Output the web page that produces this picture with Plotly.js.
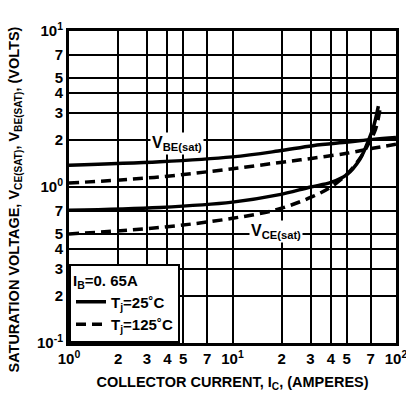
<!DOCTYPE html>
<html>
<head>
<meta charset="utf-8">
<script src="https://cdn.plot.ly/plotly-3.0.1.min.js"></script>
<style>html,body{margin:0;padding:0;background:#fff;}#chart{width:406px;height:400px;}</style>
</head>
<body>
<div id="chart"></div>
<script>
// Collector current (A) and saturation voltages (V)
const vbe25_x = [1, 3.6, 10, 19, 31, 51, 72, 100];
const vbe25_y = [1.38, 1.45, 1.56, 1.70, 1.84, 1.94, 2.02, 2.08];
const vbe125_x = [1, 3.6, 10, 19, 31, 51, 72, 100];
const vbe125_y = [1.06, 1.16, 1.31, 1.43, 1.53, 1.65, 1.77, 1.88];
const vce25_x = [1, 3.6, 10, 19, 30, 40, 50, 60, 68, 73, 78];
const vce25_y = [0.71, 0.74, 0.80, 0.89, 1.0, 1.07, 1.2, 1.5, 2.0, 2.45, 3.3];
const vce125_x = [1, 3.6, 10, 19, 31, 40, 51, 61, 68, 75, 80];
const vce125_y = [0.5, 0.55, 0.63, 0.72, 0.87, 1.0, 1.23, 1.56, 1.9, 2.35, 3.2];

const xTickVals = [1, 2, 3, 4, 5, 7, 10, 20, 30, 40, 50, 70, 100];
const xTickText = ['10<sup>0</sup>', '2', '3', '4', '5', '7', '10<sup>1</sup>', '2', '3', '4', '5', '7', '10<sup>2</sup>'];
const yTickVals = [0.1, 0.2, 0.3, 0.4, 0.5, 0.7, 1, 2, 3, 4, 5, 7, 10];
const yTickText = ['10<sup>-1</sup>', '2', '3', '4', '5', '7', '10<sup>0</sup>', '2', '3', '4', '5', '7', '10<sup>1</sup>'];

const solid = {color: '#000', width: 3.5, shape: 'spline'};
const dashed = {color: '#000', width: 3.5, dash: '10px,6px', shape: 'spline'};

const traces = [
  {x: vce25_x, y: vce25_y, mode: 'lines', line: solid, name: 'T<sub>j</sub>=25˚C', showlegend: true},
  {x: vce125_x, y: vce125_y, mode: 'lines', line: dashed, name: 'T<sub>j</sub>=125˚C', showlegend: true},
  {x: vbe25_x, y: vbe25_y, mode: 'lines', line: solid, name: 'VBE 25', showlegend: false},
  {x: vbe125_x, y: vbe125_y, mode: 'lines', line: dashed, name: 'VBE 125', showlegend: false}
];

const fontFam = 'Liberation Sans, Arial, sans-serif';
const layout = {
  width: 406, height: 400,
  margin: {l: 69, r: 10, t: 31, b: 57},
  paper_bgcolor: '#fff', plot_bgcolor: '#fff',
  font: {family: fontFam, color: '#000'},
  xaxis: {
    type: 'log', range: [0, 2],
    tickmode: 'array', tickvals: xTickVals, ticktext: xTickText,
    tickfont: {size: 15, weight: 'bold'}, ticklabeloverflow: 'allow',
    showgrid: true, gridcolor: '#000', gridwidth: 2,
    showline: true, linecolor: '#000', linewidth: 3, mirror: true,
    ticks: '', zeroline: false,
    title: {text: 'COLLECTOR CURRENT, I<sub>C</sub>, (AMPERES)', font: {size: 14.5, weight: 'bold'}, standoff: 11}
  },
  yaxis: {
    type: 'log', range: [-1, 1],
    tickmode: 'array', tickvals: yTickVals, ticktext: yTickText,
    tickfont: {size: 15, weight: 'bold'},
    showgrid: true, gridcolor: '#000', gridwidth: 2,
    showline: true, linecolor: '#000', linewidth: 3, mirror: true,
    ticks: '', zeroline: false
  },
  legend: {
    x: 0, y: 0, xanchor: 'left', yanchor: 'bottom',
    bgcolor: '#fff', bordercolor: '#000', borderwidth: 2,
    font: {size: 15, family: fontFam, weight: 'bold'},
    title: {text: 'I<sub>B</sub>=0. 65A', font: {size: 15, family: fontFam, weight: 'bold'}},
    itemwidth: 30, tracegroupgap: 0
  },
  annotations: [
    {x: Math.log10(4.6), y: Math.log10(1.91), xref: 'x', yref: 'y', text: 'V<sub>BE(sat)</sub>', showarrow: false,
     bgcolor: '#fff', font: {size: 16, family: fontFam, weight: 'bold'}, borderpad: 1},
    {x: Math.log10(18.4), y: Math.log10(0.52), xref: 'x', yref: 'y', text: 'V<sub>CE(sat)</sub>', showarrow: false,
     bgcolor: '#fff', font: {size: 16, family: fontFam, weight: 'bold'}, borderpad: 1},
    {x: -0.165, y: 0.46, xref: 'paper', yref: 'paper', textangle: -90, showarrow: false,
     xanchor: 'center', yanchor: 'middle',
     text: 'SATURATION VOLTAGE, V<sub>CE(SAT)</sub>, V<sub>BE(SAT)</sub>, (VOLTS)',
     font: {size: 14.5, family: fontFam, weight: 'bold'}}
  ]
};

Plotly.newPlot('chart', traces, layout, {staticPlot: true, displayModeBar: false});
</script>
</body>
</html>
